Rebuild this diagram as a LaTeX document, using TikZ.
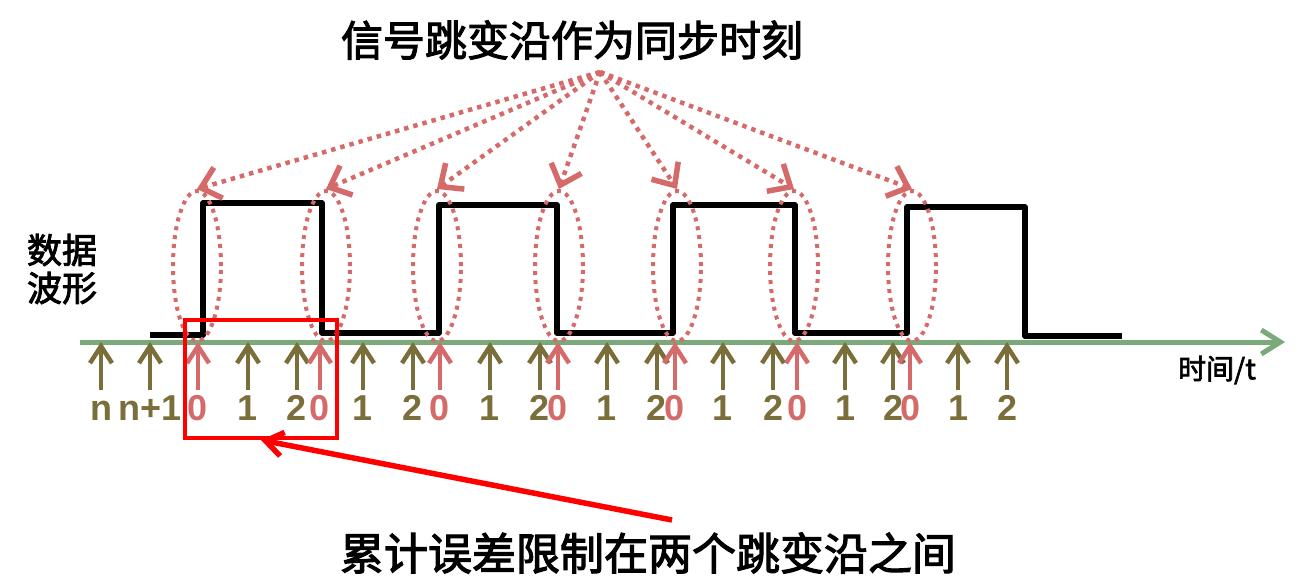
\documentclass[tikz,border=0pt]{standalone}
\usepackage{fontspec}
\setmainfont{Liberation Sans}
\newfontfamily\cjk[FakeBold=2.5]{Noto Sans CJK SC}
\usepackage{tikz}
\usetikzlibrary{arrows.meta}
\usetikzlibrary{shapes.geometric}
\definecolor{axisgreen}{RGB}{122,170,122}
\definecolor{tickolive}{RGB}{122,110,58}
\definecolor{edgered}{RGB}{212,106,106}

\tikzset{
  wave/.style={line width=5.5pt,line join=round},
  timeaxis/.style={draw=axisgreen,line width=5pt,-{Straight Barb[length=19pt,width=24pt,line width=5pt]}},
  otick/.style={draw=tickolive,line width=4.5pt,-{Straight Barb[length=17pt,width=22pt,line width=4.5pt]}},
  rtick/.style={draw=edgered,line width=4.5pt,-{Straight Barb[length=17pt,width=22pt,line width=4.5pt]}},
  olab/.style={text=tickolive,font=\fontsize{36pt}{40pt}\bfseries,anchor=base,inner sep=0pt,text height=30pt},
  rlab/.style={olab,text=edgered},
  ring/.style={ellipse,draw=edgered,line width=4pt,dash pattern=on 4pt off 5pt,minimum width=48pt,minimum height=150pt,inner sep=0pt},
  sync/.style={draw=edgered,line width=4.5pt,dash pattern=on 4.5pt off 5pt,-{Straight Barb[length=18pt,width=32pt,line width=5.5pt]}},
  window/.style={draw=red,line width=4pt,minimum width=152pt,minimum height=118pt,inner sep=0pt},
  errarrow/.style={draw=red,line width=5.5pt,-{Straight Barb[length=17pt,width=24pt,line width=5.5pt]}}
}

\begin{document}
\begin{tikzpicture}[x=1pt,y=-1pt]
\useasboundingbox (0,0) rectangle (1311,587);

	\node[font=\cjk\fontsize{42pt}{46pt}\selectfont] (title) at (572,40) {信号跳变沿作为同步时刻};
	\node[font=\cjk\fontsize{35pt}{38pt}\selectfont,align=left] (data) at (62,269) {数据\\波形};
	\node[font=\cjk\fontsize{28pt}{30pt}\selectfont] (tlabel) at (1217,370) {时间/t};
	\node[font=\cjk\fontsize{44pt}{48pt}\selectfont] (note) at (648,553) {累计误差限制在两个跳变沿之间};

	\draw[wave] (150,335) -- (203,335) -- (203,203) -- (322,203) -- (322,333) -- (439,333) -- (439,205) -- (557,205) -- (557,333) -- (673,333) -- (673,205) -- (795,205) -- (795,333) -- (907,333) -- (907,207) -- (1025,207) -- (1025,336) -- (1122,336);

	\coordinate (ax) at (80,342);
	\coordinate (axend) at (1285,342);
	\draw[timeaxis] (ax) -- (axend);

	\coordinate (src) at (600,72);
	\node[ring] (e1) at (197,266) {};
	\node[ring] (e2) at (326,266) {};
	\node[ring] (e3) at (437,266) {};
	\node[ring] (e4) at (559,266) {};
	\node[ring] (e5) at (677,266) {};
	\node[ring] (e6) at (794,266) {};
	\node[ring] (e7) at (912,266) {};

\draw[sync] (src) -- (e1.north); \draw[sync] (src) -- (e2.north); \draw[sync] (src) -- (e3.north); \draw[sync] (src) -- (e4.north); \draw[sync] (src) -- (e5.north); \draw[sync] (src) -- (e6.north); \draw[sync] (src) -- (e7.north);

	\node[olab] (k1) at (101,420) {n};   \draw[otick] (k1.north) -- (k1.north |- ax);
	\node[olab] (k2) at (150,420) {n+1}; \draw[otick] (k2.north) -- (k2.north |- ax);
	\node[rlab] (k3) at (198,420) {0};   \draw[rtick] (k3.north) -- (k3.north |- ax);
	\node[olab] (k4) at (248,420) {1};   \draw[otick] (k4.north) -- (k4.north |- ax);
	\node[olab] (k5) at (297,420) {2};   \draw[otick] (k5.north) -- (k5.north |- ax);
	\node[rlab] (k6) at (320,420) {0};   \draw[rtick] (k6.north) -- (k6.north |- ax);
	\node[olab] (k7) at (363,420) {1};   \draw[otick] (k7.north) -- (k7.north |- ax);
	\node[olab] (k8) at (413,420) {2};   \draw[otick] (k8.north) -- (k8.north |- ax);
	\node[rlab] (k9) at (440,420) {0};   \draw[rtick] (k9.north) -- (k9.north |- ax);
	\node[olab] (k10) at (490,420) {1};  \draw[otick] (k10.north) -- (k10.north |- ax);
	\node[olab] (k11) at (540,420) {2};  \draw[otick] (k11.north) -- (k11.north |- ax);
	\node[rlab] (k12) at (558,420) {0};  \draw[rtick] (k12.north) -- (k12.north |- ax);
	\node[olab] (k13) at (607,420) {1};  \draw[otick] (k13.north) -- (k13.north |- ax);
	\node[olab] (k14) at (657,420) {2};  \draw[otick] (k14.north) -- (k14.north |- ax);
	\node[rlab] (k15) at (675,420) {0};  \draw[rtick] (k15.north) -- (k15.north |- ax);
	\node[olab] (k16) at (723,420) {1};  \draw[otick] (k16.north) -- (k16.north |- ax);
	\node[olab] (k17) at (773,420) {2};  \draw[otick] (k17.north) -- (k17.north |- ax);
	\node[rlab] (k18) at (797,420) {0};  \draw[rtick] (k18.north) -- (k18.north |- ax);
	\node[olab] (k19) at (845,420) {1};  \draw[otick] (k19.north) -- (k19.north |- ax);
	\node[olab] (k20) at (893,420) {2};  \draw[otick] (k20.north) -- (k20.north |- ax);
	\node[rlab] (k21) at (910,420) {0};  \draw[rtick] (k21.north) -- (k21.north |- ax);
	\node[olab] (k22) at (958,420) {1};  \draw[otick] (k22.north) -- (k22.north |- ax);
	\node[olab] (k23) at (1007,420) {2}; \draw[otick] (k23.north) -- (k23.north |- ax);

	\node[window] (win) at (261,379) {};
	\coordinate (tail) at (672,520);
	\draw[errarrow] (tail) -- (win.south);

\end{tikzpicture}
\end{document}
